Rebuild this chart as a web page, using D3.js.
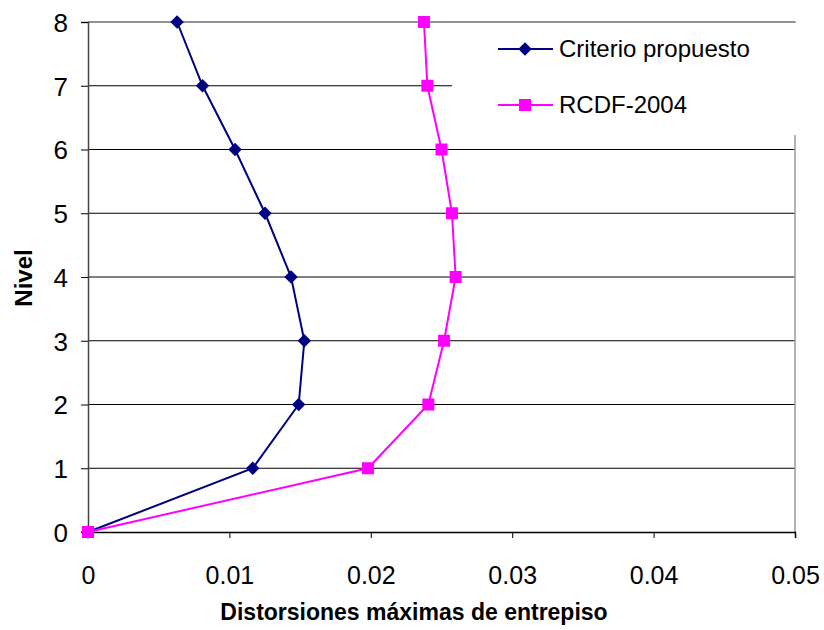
<!DOCTYPE html>
<html>
<head>
<meta charset="utf-8">
<script src="https://cdn.jsdelivr.net/npm/d3@7"></script>
<style>
  html, body { margin: 0; padding: 0; background: #fff; }
  svg { display: block; }
  text { font-family: Arial, "Liberation Sans", sans-serif; fill: #000; }
</style>
</head>
<body>
<svg id="chart" width="824" height="630"></svg>
<script>
// Story levels (y) and peak inter-story drift per level (x)
const niveles = [0, 1, 2, 3, 4, 5, 6, 7, 8];
const criterioPropuesto = [0, 0.01165, 0.0149, 0.0153, 0.01436, 0.01252, 0.0104, 0.0081, 0.0063];
const rcdf2004 = [0, 0.0198, 0.02407, 0.02518, 0.0260, 0.02574, 0.0250, 0.0240, 0.02376];
const xTicks = [0, 0.01, 0.02, 0.03, 0.04, 0.05];
const yTicks = [0, 1, 2, 3, 4, 5, 6, 7, 8];
const seriesNames = ["Criterio propuesto", "RCDF-2004"];

const svg = d3.select("#chart");
const plot = { left: 88, right: 795, top: 22, bottom: 532 };

const x = d3.scaleLinear().domain([0, 0.05]).range([plot.left, plot.right]);
const y = d3.scaleLinear().domain([0, 8]).range([plot.bottom, plot.top]);

// Gridlines
svg.append("g").selectAll("line").data(yTicks.filter(d => d > 0)).join("line")
  .attr("x1", plot.left).attr("x2", plot.right)
  .attr("y1", d => y(d)).attr("y2", d => y(d))
  .attr("stroke", "#000").attr("stroke-width", 1);

// Plot-area frame (top and right)
svg.append("path")
  .attr("d", `M${plot.left},${plot.top}H${plot.right}V${plot.bottom}`)
  .attr("fill", "none").attr("stroke", "#999").attr("stroke-width", 1.5);

// Legend panel sits over the top-right corner of the plot
svg.append("rect")
  .attr("x", 452).attr("y", plot.top + 1).attr("width", plot.right - 452 + 2).attr("height", 112)
  .attr("fill", "#fff");

// Axes
const xAxis = d3.axisBottom(x).tickValues(xTicks).tickSize(6)
  .tickFormat(d => d === 0 ? "0" : d3.format(".2f")(d));
const gx = svg.append("g").attr("transform", `translate(0,${plot.bottom})`).call(xAxis);
gx.attr("font-size", null).attr("font-family", null);
gx.select(".domain").attr("stroke", "#000").attr("stroke-width", 1.5);
gx.selectAll(".tick line").attr("stroke", "#000");
gx.selectAll(".tick text").attr("dy", null).attr("y", 52).style("font-size", "25px");

const yAxis = d3.axisLeft(y).tickValues(yTicks).tickSize(7).tickFormat(d3.format("d"));
const gy = svg.append("g").attr("transform", `translate(${plot.left},0)`).call(yAxis);
gy.attr("font-size", null).attr("font-family", null);
gy.select(".domain").attr("stroke", "#444").attr("stroke-width", 1.5);
gy.selectAll(".tick line").attr("stroke", "#000");
gy.selectAll(".tick text").attr("x", -20).attr("dy", "0.36em").style("font-size", "26px");

// Axis titles
svg.append("text").attr("x", 414).attr("y", 620).attr("text-anchor", "middle")
  .style("font-size", "23px").attr("font-weight", "bold")
  .text("Distorsiones máximas de entrepiso");
svg.append("text").attr("transform", "translate(32,278) rotate(-90)")
  .attr("text-anchor", "middle").style("font-size", "24px").attr("font-weight", "bold")
  .text("Nivel");

// Series
const line = d3.line().x(d => x(d[0])).y(d => y(d[1]));
const series = [
  { name: seriesNames[0], values: criterioPropuesto, color: "#000080", shape: "diamond" },
  { name: seriesNames[1], values: rcdf2004, color: "#FF00FF", shape: "square" }
];

function marker(sel, shape, color) {
  if (shape === "diamond") {
    sel.append("path").attr("d", d3.symbol().type(d3.symbolDiamond2).size(115)())
      .attr("fill", color);
  } else {
    sel.append("rect").attr("x", -6).attr("y", -6).attr("width", 12).attr("height", 12)
      .attr("fill", color);
  }
}

series.forEach(s => {
  const pts = s.values.map((v, i) => [v, niveles[i]]);
  svg.append("path").datum(pts).attr("d", line)
    .attr("fill", "none").attr("stroke", s.color).attr("stroke-width", 2);
  svg.append("g").selectAll("g").data(pts).join("g")
    .attr("transform", d => `translate(${x(d[0])},${y(d[1])})`)
    .each(function () { marker(d3.select(this), s.shape, s.color); });
});

// Legend
series.forEach((s, i) => {
  const ly = 49 + i * 56;
  svg.append("line").attr("x1", 498).attr("x2", 553).attr("y1", ly).attr("y2", ly)
    .attr("stroke", s.color).attr("stroke-width", 2);
  const g = svg.append("g").attr("transform", `translate(525,${ly})`);
  marker(g, s.shape, s.color);
  svg.append("text").attr("x", 559).attr("y", ly + 8).style("font-size", "24px")
    .text(s.name);
});
</script>
</body>
</html>
